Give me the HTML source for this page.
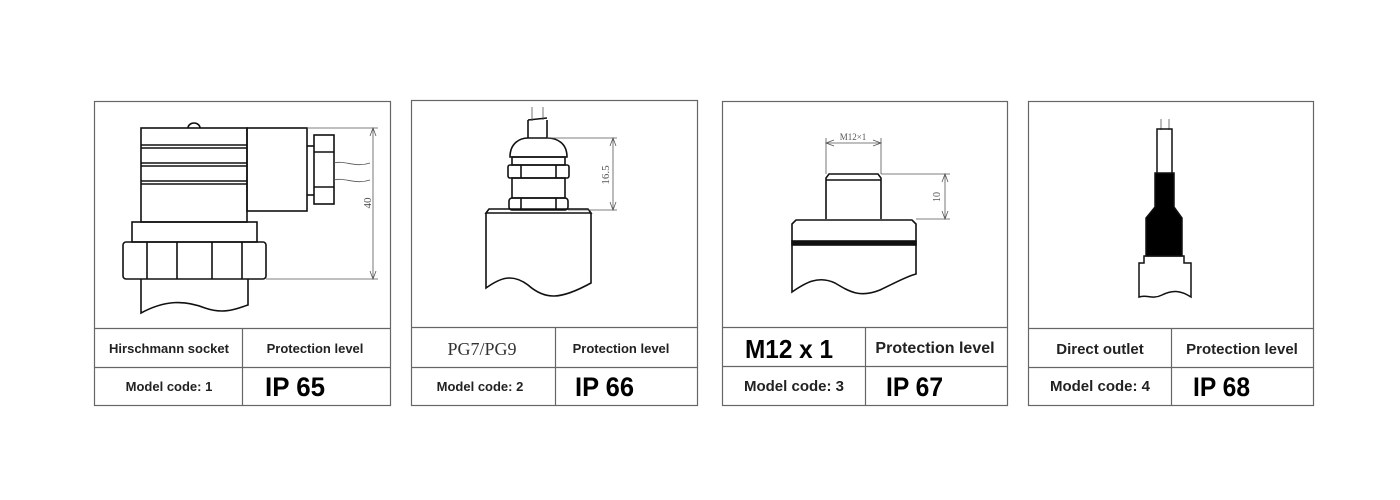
<!DOCTYPE html>
<html><head><meta charset="utf-8"><style>
html,body{margin:0;padding:0;background:#fff;}
svg{display:block}
.b{font-family:"Liberation Sans",sans-serif;font-weight:bold;fill:#222;}
.n{font-family:"Liberation Sans",sans-serif;font-weight:bold;fill:#000;}
</style></head><body>
<svg width="1400" height="500" viewBox="0 0 1400 500" xmlns="http://www.w3.org/2000/svg">
<g fill="none" stroke="#666" stroke-width="1.2">
<rect x="94.5" y="101.5" width="296" height="304"/>
<line x1="94" y1="328.5" x2="390" y2="328.5"/><line x1="94" y1="367.5" x2="390" y2="367.5"/><line x1="242.5" y1="328" x2="242.5" y2="405"/>
<rect x="411.5" y="100.5" width="286" height="305"/>
<line x1="411" y1="327.5" x2="697" y2="327.5"/><line x1="411" y1="367.5" x2="697" y2="367.5"/><line x1="555.5" y1="327" x2="555.5" y2="405"/>
<rect x="722.5" y="101.5" width="285" height="304"/>
<line x1="722" y1="327.5" x2="1007" y2="327.5"/><line x1="722" y1="366.5" x2="1007" y2="366.5"/><line x1="865.5" y1="327" x2="865.5" y2="405"/>
<rect x="1028.5" y="101.5" width="285" height="304"/>
<line x1="1028" y1="328.5" x2="1313" y2="328.5"/><line x1="1028" y1="367.5" x2="1313" y2="367.5"/><line x1="1171.5" y1="328" x2="1171.5" y2="405"/>
</g>
<!-- Panel 1 drawing -->
<g fill="none" stroke="#111" stroke-width="1.6">
<path d="M188 128 a6 5 0 0 1 12 0"/>
<rect x="141" y="128" width="106" height="94"/>
<line x1="141" y1="145" x2="247" y2="145"/><line x1="141" y1="148" x2="247" y2="148"/>
<line x1="141" y1="163" x2="247" y2="163"/><line x1="141" y1="166" x2="247" y2="166"/>
<line x1="141" y1="181" x2="247" y2="181"/><line x1="141" y1="184" x2="247" y2="184"/>
<rect x="247" y="128" width="60" height="83"/>
<line x1="307" y1="146" x2="314" y2="146"/><line x1="307" y1="195" x2="314" y2="195"/>
<rect x="314" y="135" width="20" height="69"/>
<line x1="314" y1="152" x2="334" y2="152"/><line x1="314" y1="187" x2="334" y2="187"/>
<rect x="132" y="222" width="125" height="20"/>
<rect x="123" y="242" width="143" height="37" rx="3"/>
<line x1="147" y1="242" x2="147" y2="279"/><line x1="177" y1="242" x2="177" y2="279"/><line x1="212" y1="242" x2="212" y2="279"/><line x1="242" y1="242" x2="242" y2="279"/>
<path d="M141 279 V313 C165 300 185 300 205 308 C225 315 238 308 248 305 V279"/>
</g>
<g fill="none" stroke="#555" stroke-width="0.8">
<path d="M334 163 C345 160 355 168 370 163"/><path d="M334 180 C345 177 355 185 370 180"/>
<line x1="307" y1="128" x2="378" y2="128"/><line x1="266" y1="279" x2="378" y2="279"/>
<line x1="373" y1="128" x2="373" y2="279"/>
<path d="M370 136 L373 128 L376 136 M370 271 L373 279 L376 271"/>
</g>
<text x="0" y="0" transform="translate(371,203) rotate(-90)" font-family="Liberation Serif,serif" font-size="11" fill="#555" text-anchor="middle">40</text>
<!-- Panel 2 drawing -->
<g fill="none" stroke="#111" stroke-width="1.6">
<line x1="528" y1="120" x2="528" y2="138"/><line x1="547" y1="120" x2="547" y2="138"/>
<path d="M528 120 L547 118"/>
<path d="M510 157 C510 143 520 138 528 138 H547 C557 138 567 143 567 157 Z"/>
<rect x="512" y="157" width="53" height="8"/>
<rect x="508" y="165" width="61" height="13" rx="2"/>
<line x1="521" y1="165" x2="521" y2="178"/><line x1="556" y1="165" x2="556" y2="178"/>
<rect x="512" y="178" width="53" height="20"/>
<rect x="509" y="198" width="59" height="12" rx="3"/>
<line x1="521" y1="198" x2="521" y2="210"/><line x1="556" y1="198" x2="556" y2="210"/>
<path d="M486 213 L489 209 H588 L591 213 Z"/>
<path d="M486 213 V288 C500 278 512 273 528 285 C545 300 560 300 591 283 V213"/>
</g>
<g fill="none" stroke="#555" stroke-width="0.8">
<line x1="532" y1="107" x2="532" y2="121"/><line x1="543" y1="107" x2="543" y2="120"/>
<line x1="547" y1="138" x2="617" y2="138"/><line x1="568" y1="210" x2="617" y2="210"/>
<line x1="613" y1="138" x2="613" y2="210"/>
<path d="M610 146 L613 138 L616 146 M610 202 L613 210 L616 202"/>
</g>
<text transform="translate(609,175) rotate(-90)" font-family="Liberation Serif,serif" font-size="11" fill="#555" text-anchor="middle">16.5</text>
<!-- Panel 3 drawing -->
<g fill="none" stroke="#111" stroke-width="1.6">
<path d="M826 219 V178 L829 174 H878 L881 178 V219"/><line x1="826" y1="180" x2="881" y2="180"/>
<path d="M792 244 V224 L796 220 H912 L916 224 V244"/>
<rect x="792" y="241" width="124" height="4" fill="#111"/>
<path d="M792 244 V292 C805 283 818 275 835 283 C850 292 860 298 880 290 C895 283 905 277 916 274 V244"/>
</g>
<g fill="none" stroke="#555" stroke-width="0.8">
<line x1="826" y1="174" x2="826" y2="138"/><line x1="881" y1="174" x2="881" y2="138"/>
<line x1="826" y1="143" x2="881" y2="143"/>
<path d="M834 140 L826 143 L834 146 M873 140 L881 143 L873 146"/>
<line x1="881" y1="174" x2="950" y2="174"/><line x1="916" y1="219" x2="950" y2="219"/>
<line x1="945" y1="174" x2="945" y2="219"/>
<path d="M942 182 L945 174 L948 182 M942 211 L945 219 L948 211"/>
</g>
<text x="853" y="140" font-family="Liberation Serif,serif" font-size="9" fill="#555" text-anchor="middle">M12×1</text>
<text transform="translate(940,197) rotate(-90)" font-family="Liberation Serif,serif" font-size="10" fill="#555" text-anchor="middle">10</text>
<!-- Panel 4 drawing -->
<g fill="none" stroke="#555" stroke-width="0.8"><line x1="1161" y1="119" x2="1161" y2="130"/><line x1="1169" y1="119" x2="1169" y2="130"/></g>
<g fill="none" stroke="#111" stroke-width="1.5">
<path d="M1157 173 V129 H1172 V173"/>
<path d="M1155 173 H1174 V207 L1182 218 V256 H1146 V218 L1155 207 Z" fill="#000"/>
<path d="M1144 263 V256 H1184 V263 H1191 V297 C1180 290 1172 290 1162 295 C1152 300 1147 294 1139 297 V263 Z"/>
</g>
<!-- Text -->
<text class="b" x="169" y="353" font-size="13" text-anchor="middle">Hirschmann socket</text>
<text class="b" x="315" y="353" font-size="13" text-anchor="middle">Protection level</text>
<text class="b" x="169" y="391" font-size="13" text-anchor="middle">Model code: 1</text>
<text class="n" x="265" y="396" font-size="27" textLength="60" lengthAdjust="spacingAndGlyphs">IP 65</text>
<text x="482" y="355" font-family="Liberation Serif,serif" font-size="18" fill="#333" text-anchor="middle">PG7/PG9</text>
<text class="b" x="621" y="353" font-size="13" text-anchor="middle">Protection level</text>
<text class="b" x="480" y="391" font-size="13" text-anchor="middle">Model code: 2</text>
<text class="n" x="575" y="396" font-size="27" textLength="59" lengthAdjust="spacingAndGlyphs">IP 66</text>
<text class="n" x="745" y="358" font-size="26" textLength="88" lengthAdjust="spacingAndGlyphs">M12 x 1</text>
<text class="b" x="935" y="353" font-size="16" text-anchor="middle">Protection level</text>
<text class="b" x="794" y="391" font-size="15" text-anchor="middle">Model code: 3</text>
<text class="n" x="886" y="396" font-size="27" textLength="57" lengthAdjust="spacingAndGlyphs">IP 67</text>
<text class="b" x="1100" y="354" font-size="15" text-anchor="middle">Direct outlet</text>
<text class="b" x="1242" y="354" font-size="15" text-anchor="middle">Protection level</text>
<text class="b" x="1100" y="391" font-size="15" text-anchor="middle">Model code: 4</text>
<text class="n" x="1193" y="396" font-size="27" textLength="57" lengthAdjust="spacingAndGlyphs">IP 68</text>
</svg>
</body></html>
